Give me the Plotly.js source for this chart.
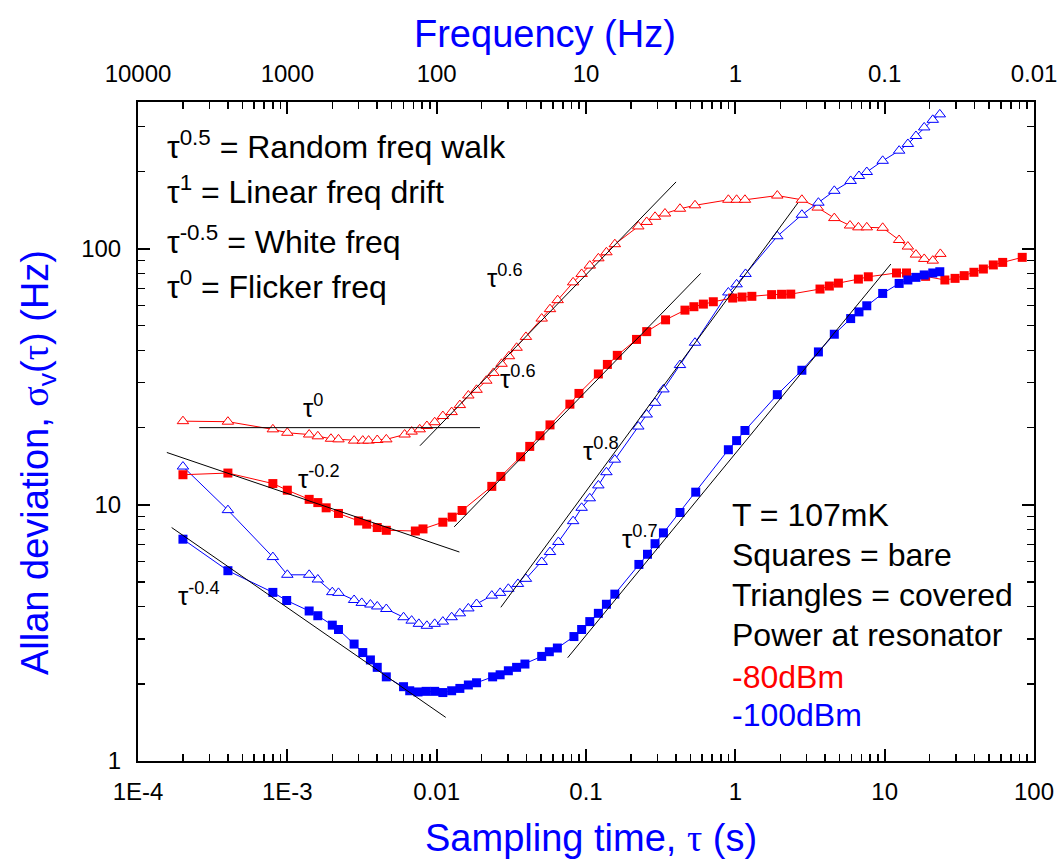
<!DOCTYPE html>
<html><head><meta charset="utf-8">
<script src="https://cdn.plot.ly/plotly-3.0.1.min.js"></script>
<style>body{margin:0;background:#fff}#chart{width:1059px;height:861px}</style>
</head><body><div id="chart"></div>
<script>
// -80 dBm, bare (red squares)
const tauRedSq = [2.0e-4,4.0e-4,8.0e-4,1.0e-3,1.4e-3,1.6e-3,1.82e-3,2.2e-3,3.0e-3,3.4e-3,4.0e-3,4.6e-3,7.2e-3,8.1e-3,1.1e-2,1.27e-2,1.48e-2,2.34e-2,2.69e-2,3.65e-2,4.2e-2,4.92e-2,5.74e-2,7.8e-2,8.97e-2,0.121,0.139,0.162,0.218,0.255,0.341,0.46,0.528,0.611,0.712,0.96,1.11,1.29,1.75,2.04,2.35,3.69,4.26,4.9,6.67,7.77,12.0,14.0,18.8,25.3,29.6,34.1,39.6,45.8,53.4,61.7,83.4];
const sigRedSq = [13.1,13.3,12.1,11.4,10.5,10.2,9.73,9.25,8.65,8.4,8.15,7.95,7.9,8.05,8.55,8.95,9.5,11.8,12.9,15.4,16.9,18.6,20.5,24.7,27.2,32.4,35.3,38.3,44.2,47.4,52.7,57.5,59.3,60.7,62.0,64.1,64.7,65.1,66.1,66.3,66.4,69.5,71.4,73.3,76.0,77.6,80.3,80.3,77.9,75.4,76.5,78.4,80.8,83.2,86.3,88.3,92.4];
// -80 dBm, covered (red triangles)
const tauRedTri = [2.0e-4,4.0e-4,8.0e-4,1.0e-3,1.4e-3,1.6e-3,1.96e-3,2.2e-3,2.8e-3,3.2e-3,3.5e-3,4.0e-3,4.6e-3,6.1e-3,6.8e-3,7.7e-3,8.6e-3,9.7e-3,1.1e-2,1.26e-2,1.43e-2,1.63e-2,1.85e-2,2.15e-2,2.4e-2,2.72e-2,3.05e-2,3.43e-2,3.96e-2,5.05e-2,5.74e-2,6.46e-2,8.2e-2,9.35e-2,0.106,0.121,0.137,0.156,0.224,0.255,0.29,0.338,0.426,0.537,0.898,1.02,1.16,1.91,2.79,3.56,4.6,5.86,6.67,7.59,9.7,12.5,14.3,16.2,18.4,21.0,23.6];
const sigRedTri = [21.2,21.1,19.7,19.1,18.8,18.5,18.1,18.0,17.8,17.8,17.8,17.9,18.0,18.8,19.3,19.7,20.3,21.0,22.2,23.0,24.5,26.7,28.1,30.5,32.7,35.5,38.0,41.0,45.2,53.3,58.0,62.9,73.8,79.6,85.8,91.6,96.7,104,122,127,133,137,143,147.5,155,155,155,161,155,144.5,131.5,123,121,121,120.5,108,101.8,94.7,91.1,89.7,95.3];
// -100 dBm, bare (blue squares)
const tauBlueSq = [2.0e-4,4.0e-4,8.0e-4,9.9e-4,1.4e-3,1.6e-3,2.0e-3,2.2e-3,2.8e-3,3.2e-3,3.6e-3,4.0e-3,4.6e-3,6.0e-3,6.6e-3,7.5e-3,8.5e-3,9.7e-3,1.1e-2,1.26e-2,1.43e-2,1.63e-2,1.85e-2,2.37e-2,2.66e-2,3.02e-2,3.43e-2,3.9e-2,5.05e-2,5.68e-2,6.43e-2,8.3e-2,9.35e-2,0.106,0.121,0.137,0.156,0.226,0.258,0.29,0.33,0.426,0.543,0.898,1.02,1.16,1.91,2.79,3.6,4.6,5.92,6.73,7.59,9.7,12.5,14.3,16.2,18.4,21.0,23.4];
const sigBlueSq = [7.34,5.53,4.55,4.23,3.85,3.69,3.39,3.26,2.86,2.65,2.48,2.32,2.13,1.95,1.88,1.86,1.87,1.87,1.85,1.88,1.92,1.98,2.02,2.13,2.17,2.25,2.32,2.39,2.56,2.67,2.76,3.06,3.26,3.5,3.77,4.09,4.48,5.85,6.41,7.05,7.77,9.33,11.2,16.4,17.8,19.5,26.9,33.5,39.5,46.3,53.3,56.6,59.8,66.8,73.1,75.4,77.2,78.9,80.3,81.2];
// -100 dBm, covered (blue triangles)
const tauBlueTri = [2.0e-4,4.0e-4,8.0e-4,1.0e-3,1.4e-3,1.6e-3,2.0e-3,2.2e-3,2.8e-3,3.15e-3,3.6e-3,4.0e-3,4.6e-3,6.0e-3,6.8e-3,7.6e-3,8.6e-3,9.7e-3,1.1e-2,1.26e-2,1.43e-2,1.63e-2,1.85e-2,2.34e-2,2.66e-2,3.02e-2,3.5e-2,3.96e-2,5.05e-2,5.74e-2,6.53e-2,8.2e-2,9.35e-2,0.106,0.121,0.137,0.156,0.224,0.255,0.29,0.33,0.426,0.537,0.898,1.02,1.17,1.91,2.79,3.6,4.6,5.92,6.73,7.59,9.7,12.5,14.3,16.2,18.4,21.0,23.4];
const sigBlueTri = [14.1,9.53,6.25,5.33,5.33,5.11,4.56,4.53,4.25,4.14,4.08,4.01,3.92,3.64,3.53,3.43,3.37,3.43,3.5,3.64,3.77,3.94,4.1,4.42,4.53,4.7,4.91,5.14,5.98,6.54,7.16,8.63,9.73,10.6,11.9,13.4,15.0,20.2,22.5,25.0,28.2,35.1,42.9,67.4,72.5,79.6,111.7,135.5,151,168,183.6,192,199,220,241,256,275,297,318,334];

// power-law guide lines (end points)
const fitTau0   = [2.57e-4, 1.95e-2], fitSig0   = [20, 20];
const fitTauM02 = [1.56e-4, 1.42e-2], fitSigM02 = [16.0, 6.54];
const fitTauM04 = [1.68e-4, 1.15e-2], fitSigM04 = [8.15, 1.48];
const fitTau06a = [7.73e-3, 0.401],   fitSig06a = [17.0, 182];
const fitTau06b = [1.31e-2, 0.586],   fitSig06b = [8.2, 80];
const fitTau08  = [2.69e-2, 2.62],    fitSig08  = [3.98, 150.6];
const fitTau07  = [7.54e-2, 11.0],    fitSig07  = [2.53, 87];

// tick labels
const xTickVals = [1e-4,1e-3,1e-2,1e-1,1,10,100];
const xTickText = ['1E-4','1E-3','0.01','0.1','1','10','100'];
const topTickText = ['10000','1000','100','10','1','0.1','0.01'];
const yTickVals = [1,10,100];
const yTickText = ['1','10','100'];

const FONT = 'Liberation Sans, Arial, sans-serif';
const RED = '#ff0000', BLUE = '#0000ff';

function minorTicks(lo, hi){const v=[];for(let d=lo;d<hi;d++)for(let k=2;k<=9;k++)v.push(k*Math.pow(10,d));return v;}
const minorX = minorTicks(-4,2), minorY = minorTicks(0,3);

const L=138,R=1034,T=102,B=761;
const px = x => (x-L)/(R-L);
const py = y => (B-y)/(B-T);

function series(x,y,color,symbol,filled){
  return {x:x,y:y,type:'scatter',mode:'lines+markers',hoverinfo:'skip',showlegend:false,
    line:{color:color,width:1},
    marker:{symbol:symbol,size:filled?9:10,color:filled?color:'#ffffff',line:{color:color,width:filled?0:1}}};
}
function fit(x,y){return {x:x,y:y,type:'scatter',mode:'lines',hoverinfo:'skip',showlegend:false,line:{color:'#000',width:1}};}

const data = [
  series(tauRedTri,sigRedTri,RED,'triangle-up',false),
  series(tauBlueTri,sigBlueTri,BLUE,'triangle-up',false),
  series(tauRedSq,sigRedSq,RED,'square',true),
  series(tauBlueSq,sigBlueSq,BLUE,'square',true),
  fit(fitTau0,fitSig0), fit(fitTauM02,fitSigM02), fit(fitTauM04,fitSigM04),
  fit(fitTau06a,fitSig06a), fit(fitTau06b,fitSig06b), fit(fitTau08,fitSig08), fit(fitTau07,fitSig07),
  {x:[1],y:[1],xaxis:'x2',yaxis:'y2',type:'scatter',mode:'markers',marker:{opacity:0},hoverinfo:'skip',showlegend:false}
];

const tickCommon = {ticks:'inside',ticklen:12,tickwidth:2,tickcolor:'#000',showline:true,linewidth:2,linecolor:'#000',
  showgrid:false,zeroline:false,tickfont:{family:FONT,size:24,color:'#000'}};
const minorCommon = {ticks:'inside',ticklen:7,tickwidth:1.5,tickcolor:'#000',showgrid:false};

function ann(text,x,y,size,color,xanchor,angle){
  const a = {text:text,x:px(x),y:py(y),xref:'paper',yref:'paper',showarrow:false,xanchor:xanchor||'left',yanchor:'middle',
    font:{family:FONT,size:size,color:color||'#000'}};
  if (angle !== undefined) a.textangle = angle;
  return a;
}
const SERIF = "font-family:'Liberation Serif','DejaVu Serif',serif";
const annotations = [
  // axis titles
  ann('Frequency (Hz)',545,34,38,BLUE,'center'),
  ann('Sampling time, <span style="'+SERIF+'">τ</span> (s)',591,838,38,BLUE,'center'),
  ann('Allan deviation, <span style="'+SERIF+'">σ</span><sub>v</sub>(<span style="'+SERIF+'">τ</span>) (Hz)',38,463,38,BLUE,'center',-90),
  // notes
  ann('τ<sup>0.5</sup> = Random freq walk',165,145,32),
  ann('τ<sup>1</sup> = Linear freq drift',165,190,32),
  ann('τ<sup>-0.5</sup> = White freq',165,240,32),
  ann('τ<sup>0</sup> = Flicker freq',165,285,32),
  ann('T = 107mK',730,515,32),
  ann('Squares = bare',730,555,32),
  ann('Triangles = covered',730,595,32),
  ann('Power at resonator',730,635,32),
  ann('-80dBm',730,677,32,RED),
  ann('-100dBm',730,715,32,BLUE),
  // slope labels
  ann('τ<sup>0</sup>',301,406,26),
  ann('τ<sup>-0.2</sup>',296,477,26),
  ann('τ<sup>-0.4</sup>',176,594,26),
  ann('τ<sup>0.6</sup>',485,276,26),
  ann('τ<sup>0.6</sup>',498,377,26),
  ann('τ<sup>0.8</sup>',581,449,26),
  ann('τ<sup>0.7</sup>',620,537,26)
];

const layout = {
  width:1059,height:861,paper_bgcolor:'#fff',plot_bgcolor:'#fff',
  margin:{l:L,r:1059-R,t:T,b:861-B,pad:0},
  font:{family:FONT},
  xaxis:Object.assign({},tickCommon,{type:'log',range:[-4,2],tickmode:'array',tickvals:xTickVals,ticktext:xTickText,
    ticklabelstandoff:8,
    minor:Object.assign({tickmode:'array',tickvals:minorX},minorCommon)}),
  xaxis2:Object.assign({},tickCommon,{type:'log',range:[-4,2],overlaying:'x',side:'top',anchor:'y',tickmode:'array',
    tickvals:xTickVals,ticktext:topTickText,ticklabelstandoff:8,
    minor:Object.assign({tickmode:'array',tickvals:minorX},minorCommon)}),
  yaxis:Object.assign({},tickCommon,{type:'log',range:[0,2.572],tickmode:'array',tickvals:yTickVals,ticktext:yTickText,
    ticklabelstandoff:10,
    minor:Object.assign({tickmode:'array',tickvals:minorY},minorCommon)}),
  yaxis2:Object.assign({},tickCommon,{type:'log',range:[0,2.572],overlaying:'y',side:'right',anchor:'x',tickmode:'array',
    tickvals:yTickVals,showticklabels:false,
    minor:Object.assign({tickmode:'array',tickvals:minorY},minorCommon)}),
  annotations:annotations
};
Plotly.newPlot('chart',data,layout,{displayModeBar:false,staticPlot:true});
</script></body></html>
